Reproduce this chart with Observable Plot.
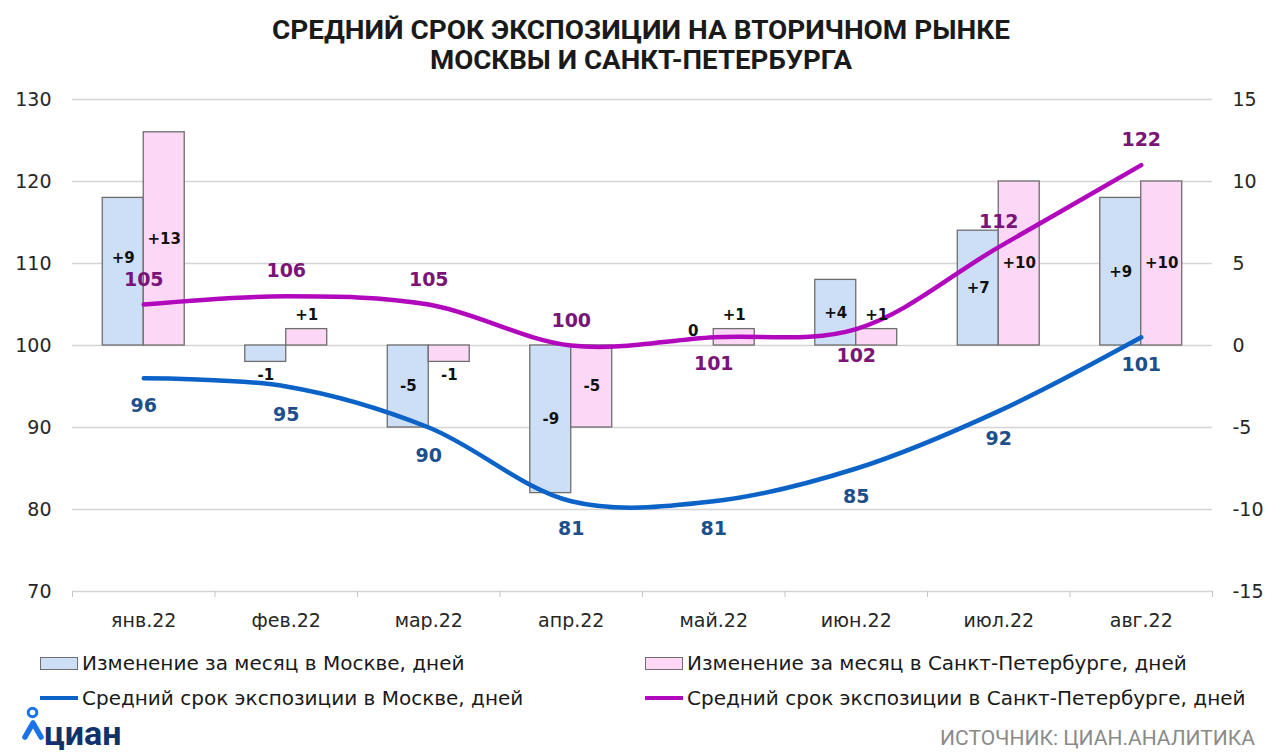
<!DOCTYPE html>
<html><head><meta charset="utf-8">
<script src="https://cdn.jsdelivr.net/npm/d3@7"></script>
<script src="https://cdn.jsdelivr.net/npm/@observablehq/plot@0.6"></script>
<style>
  html,body{margin:0;padding:0;background:#fff;}
  #wrap{position:relative;width:1280px;height:752px;overflow:hidden;font-family:"DejaVu Sans",sans-serif;}
  #chart{position:absolute;left:0;top:80px;}
  .leg{position:absolute;font-size:20px;color:#1a1a1a;white-space:nowrap;line-height:22px;font-family:"DejaVu Sans",sans-serif;}
  .sw{position:absolute;box-sizing:border-box;}
  #src{position:absolute;right:25px;top:726px;font-size:21px;color:#8a8a8a;font-family:"Roboto","Liberation Sans",sans-serif;line-height:24px;}
</style></head>
<body><div id="wrap">
<svg id="title" width="1280" height="80" style="position:absolute;left:0;top:0">
  <text x="641" y="39" text-anchor="middle" textLength="738" lengthAdjust="spacingAndGlyphs" font-family="Roboto, Liberation Sans, sans-serif" font-weight="700" font-size="25" fill="#1a1a1a">СРЕДНИЙ СРОК ЭКСПОЗИЦИИ НА ВТОРИЧНОМ РЫНКЕ</text>
  <text x="641" y="69" text-anchor="middle" textLength="422" lengthAdjust="spacingAndGlyphs" font-family="Roboto, Liberation Sans, sans-serif" font-weight="700" font-size="25" fill="#1a1a1a">МОСКВЫ И САНКТ-ПЕТЕРБУРГА</text>
</svg>
<div id="chart"></div>
<div id="legend"></div>
<svg width="140" height="52" style="position:absolute;left:0;top:700px">
  <circle cx="32.5" cy="12.5" r="4.3" fill="none" stroke="#1a73e8" stroke-width="3"/>
  <path d="M25 37 L33 23 L41 37" fill="none" stroke="#1a73e8" stroke-width="5.5" stroke-linejoin="round" stroke-linecap="round"/>
  <text x="44" y="45" font-family="Roboto, Liberation Sans, sans-serif" font-weight="700" font-size="34" fill="#10316b">циан</text>
</svg>
<div id="src">ИСТОЧНИК: ЦИАН.АНАЛИТИКА</div>
</div>
<script>
// ---- data ----
const months = ["янв.22","фев.22","мар.22","апр.22","май.22","июн.22","июл.22","авг.22"];
const mskChange = [9,-1,-5,-9,0,4,7,9];
const spbChange = [13,1,-1,-5,1,1,10,10];
const mskDays = [96,95,90,81,81,85,92,101];
const spbDays = [105,106,105,100,101,102,112,122];
const leftTicks = [70,80,90,100,110,120,130];
const rightTicks = [-15,-10,-5,0,5,10,15];
const seriesNames = ["Изменение за месяц в Москве, дней","Изменение за месяц в Санкт-Петербурге, дней","Средний срок экспозиции в Москве, дней","Средний срок экспозиции в Санкт-Петербурге, дней"];

// ---- styling (not data) ----
const spbLabelBelow = [false,false,false,false,true,true,false,false];
const mskLabelLift = [1.6,0,0,0,0,0,0,0]; // label lift (axis units) to avoid a collision
const C = {mskBar:"#cddff6", spbBar:"#fcd8f6", barStroke:"#6e6e6e", mskLine:"#0b63c7", spbLine:"#b107bd", mskLab:"#1d4f8a", spbLab:"#7a1478"};
const F = "DejaVu Sans, sans-serif";

// right axis (change) mapped onto left axis (days): 0 -> 100, 15 -> 130
const toLeft = r => 100 + 2*r;
const fmtSigned = v => v > 0 ? "+" + v : String(v);
const bw = 0.2875;

const rows = months.map((m,i)=>({i, m, msk:mskChange[i], spb:spbChange[i], md:mskDays[i], sd:spbDays[i], below:spbLabelBelow[i], lift:mskLabelLift[i]}));
const inside = v => Math.abs(v) >= 3;
const barLab = {fontSize: 15, fontWeight: "bold", fill: "#111", fontFamily: F};

const chart = Plot.plot({
  width: 1280, height: 550,
  marginTop: 19, marginBottom: 39, marginLeft: 72, marginRight: 68,
  style: {fontFamily: F, color: "#262626", background: "#fff"},
  x: {type: "linear", domain: [-0.5, 7.5], label: null},
  y: {domain: [70, 130], label: null},
  marks: [
    Plot.gridY(leftTicks, {stroke: "#d4d4d4", strokeOpacity: 1, strokeWidth: 1.6}),
    Plot.axisX(d3.range(-0.5, 8, 1), {tickSize: 6, stroke: "#c4c4c4", tickFormat: () => "", label: null}),
    Plot.axisX(d3.range(0, 8), {tickSize: 0, tickPadding: 22, fontSize: 19, tickFormat: i => months[i], fill: "#262626", label: null}),
    Plot.axisY(leftTicks, {anchor: "left", tickSize: 0, tickPadding: 21, fontSize: 19, fill: "#262626", label: null}),
    Plot.axisY(rightTicks.map(toLeft), {anchor: "right", tickSize: 0, tickPadding: 20, fontSize: 19, fill: "#262626", label: null, tickFormat: d => String((d-100)/2)}),
    // bars
    Plot.rect(rows, {x1: d => d.i - bw, x2: d => d.i, y1: 100, y2: d => toLeft(d.msk), fill: C.mskBar, stroke: C.barStroke, strokeWidth: 1.3}),
    Plot.rect(rows, {x1: d => d.i, x2: d => d.i + bw, y1: 100, y2: d => toLeft(d.spb), fill: C.spbBar, stroke: C.barStroke, strokeWidth: 1.3}),
    // bar labels inside (centre)
    Plot.text(rows.filter(d=>inside(d.msk)), {x: d => d.i - bw/2, y: d => toLeft(d.msk/2) + d.lift, text: d => fmtSigned(d.msk), ...barLab}),
    Plot.text(rows.filter(d=>inside(d.spb)), {x: d => d.i + bw/2, y: d => toLeft(d.spb/2), text: d => fmtSigned(d.spb), ...barLab}),
    // lines
    Plot.line(rows, {x: "i", y: "md", stroke: C.mskLine, strokeWidth: 4.5, curve: "catmull-rom"}),
    Plot.line(rows, {x: "i", y: "sd", stroke: C.spbLine, strokeWidth: 4.5, curve: "catmull-rom"}),
    // bar labels outside end for small changes
    Plot.text(rows.filter(d=>!inside(d.msk) && d.msk < 0), {x: d => d.i - bw/2, y: d => toLeft(d.msk), dy: 13, text: d => fmtSigned(d.msk), ...barLab}),
    Plot.text(rows.filter(d=>!inside(d.msk) && d.msk >= 0), {x: d => d.i - bw/2, y: d => toLeft(d.msk), dy: -14, text: d => fmtSigned(d.msk), ...barLab}),
    Plot.text(rows.filter(d=>!inside(d.spb) && d.spb < 0), {x: d => d.i + bw/2, y: d => toLeft(d.spb), dy: 13, text: d => fmtSigned(d.spb), ...barLab}),
    Plot.text(rows.filter(d=>!inside(d.spb) && d.spb >= 0), {x: d => d.i + bw/2, y: d => toLeft(d.spb), dy: -14, text: d => fmtSigned(d.spb), ...barLab}),
    // line labels
    Plot.text(rows, {x: "i", y: "md", dy: 28, text: d => String(d.md), fontSize: 19, fontWeight: "bold", fill: C.mskLab, fontFamily: F}),
    Plot.text(rows.filter(d=>!d.below), {x: "i", y: "sd", dy: -25, text: d => String(d.sd), fontSize: 19, fontWeight: "bold", fill: C.spbLab, fontFamily: F}),
    Plot.text(rows.filter(d=>d.below), {x: "i", y: "sd", dy: 27, text: d => String(d.sd), fontSize: 19, fontWeight: "bold", fill: C.spbLab, fontFamily: F})
  ]
});
document.getElementById("chart").appendChild(chart);

// legend
const leg = document.getElementById("legend");
const items = [
  {x: 40, y: 663, kind: "bar", color: C.mskBar, name: seriesNames[0]},
  {x: 645, y: 663, kind: "bar", color: C.spbBar, name: seriesNames[1]},
  {x: 40, y: 698, kind: "line", color: C.mskLine, name: seriesNames[2]},
  {x: 645, y: 698, kind: "line", color: C.spbLine, name: seriesNames[3]}
];
for (const it of items) {
  const sw = document.createElement("div");
  sw.className = "sw";
  if (it.kind === "bar") {
    Object.assign(sw.style, {left: it.x+"px", top: (it.y-6)+"px", width: "38px", height: "13px", background: it.color, border: "1.3px solid " + C.barStroke});
  } else {
    Object.assign(sw.style, {left: it.x+"px", top: (it.y-2)+"px", width: "38px", height: "4px", background: it.color});
  }
  leg.appendChild(sw);
  const t = document.createElement("div");
  t.className = "leg";
  t.textContent = it.name;
  Object.assign(t.style, {left: (it.x+42)+"px", top: (it.y-11)+"px"});
  leg.appendChild(t);
}
</script>
</body></html>
